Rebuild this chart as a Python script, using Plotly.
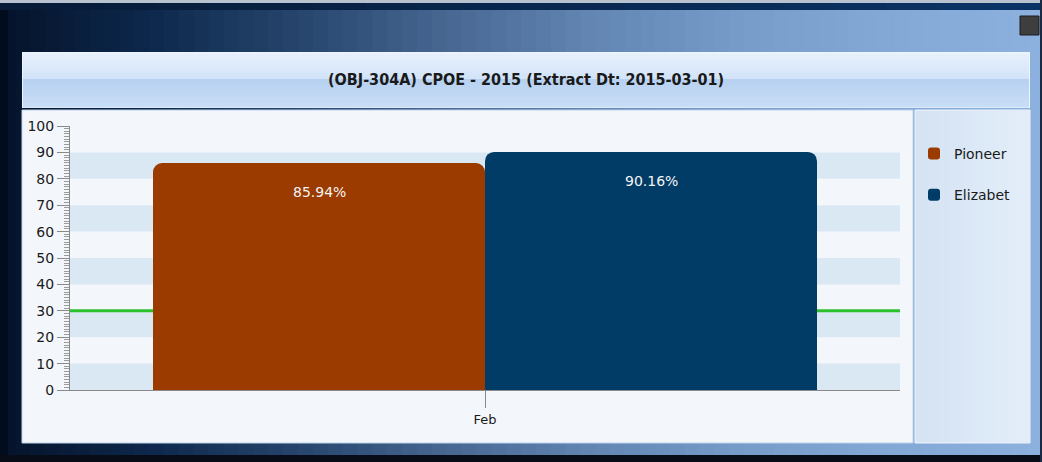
import plotly.graph_objects as go

# ---- data ----
categories = ["Feb"]
series_names = ["Pioneer", "Elizabet"]
pioneer_values = [85.94]
elizabet_values = [90.16]
target_value = 30
title_text = "(OBJ-304A) CPOE - 2015 (Extract Dt: 2015-03-01)"
y_ticks = [0, 10, 20, 30, 40, 50, 60, 70, 80, 90, 100]
series_colors = ["#9b3b00", "#003c66"]

W, H = 1042, 462
L, R, T, B = 70, 900, 126, 390  # plot area in pixels


def px(x):
    return (x - L) / (R - L)


def py(y):
    return (B - y) / (B - T)


def hexrgb(h):
    h = h.lstrip("#")
    return tuple(int(h[i:i + 2], 16) for i in (0, 2, 4))


def interp(stops, t):
    for (a, ca), (b, cb) in zip(stops, stops[1:]):
        if a <= t <= b:
            f = (t - a) / (b - a) if b > a else 0
            c1, c2 = hexrgb(ca), hexrgb(cb)
            return "rgb(%d,%d,%d)" % tuple(round(c1[i] + (c2[i] - c1[i]) * f) for i in range(3))
    return stops[-1][1]


shapes = []


def rect(x0, y0, x1, y1, fill, line=None, lw=0):
    shapes.append(dict(type="rect", xref="paper", yref="paper",
                       x0=px(x0), x1=px(x1), y0=py(y1), y1=py(y0),
                       fillcolor=fill, line=dict(color=line or fill, width=lw),
                       layer="below"))


# window horizontal gradient
win_stops = [(0, "#05132a"), (150, "#0d284c"), (300, "#27456d"), (450, "#486893"),
             (600, "#6487b4"), (750, "#789dca"), (900, "#84a9d7"), (1042, "#8db1de")]
n = 70
for i in range(n):
    x0 = W * i / n
    x1 = W * (i + 1) / n + 0.8
    rect(x0, 0, x1, H, interp(win_stops, (x0 + x1) / 2))

# top strip
rect(0, 0, W, 3, "#b9c3cf")
top_stops = [(0, "#071a36"), (1042, "#0a3466")]
for i in range(20):
    x0 = W * i / 20
    x1 = W * (i + 1) / 20 + 0.8
    rect(x0, 3, x1, 10, interp(top_stops, (x0 + x1) / 2))
# bottom edge
rect(0, 455, W, H, "#080c16")
rect(1040, 0, W, H, "#1a2a44")
rect(0, 10, 8, 455, "#030c1c")

# window button
rect(1020, 16, 1039, 35, "#3e3e3e", "#1c1c1c", 1)

# title panel (vertical gradient)
rect(22, 52, 1030, 108, "#eef5fe")
title_stops = [(0, "#e8f1fd"), (26, "#d2e3f8"), (27, "#b7d1f1"), (54, "#c8ddf6")]
for i in range(27):
    y0 = 53 + 54 * i / 27
    y1 = 53 + 54 * (i + 1) / 27 + 0.6
    rect(23, y0, 1029, y1, interp(title_stops, (y0 + y1) / 2 - 53))

# chart panel
rect(22, 110, 913, 443, "#f3f7fc", "#bdd2ea", 1)
# legend panel
leg_stops = [(915, "#d4e2f3"), (1030, "#e3eef9")]
rect(915, 110, 1030, 443, "#dbe7f5", "#eef4fb", 1)
for i in range(10):
    x0 = 916 + 113 * i / 10
    x1 = 916 + 113 * (i + 1) / 10 + 0.6
    rect(x0, 111, x1, 442, interp(leg_stops, (x0 + x1) / 2))

# alternating bands in the plot area (data-referenced in y)
for k in range(0, 100, 20):
    shapes.append(dict(type="rect", xref="paper", yref="y", x0=0, x1=1,
                       y0=k, y1=k + 10, fillcolor="#dae8f4", line=dict(width=0),
                       layer="below"))
# target line
shapes.append(dict(type="line", xref="paper", yref="y", x0=0, x1=1,
                   y0=target_value, y1=target_value,
                   line=dict(color="#2cc02c", width=3), layer="below"))

fig = go.Figure()
for name, vals, col in zip(series_names, [pioneer_values, elizabet_values], series_colors):
    fig.add_trace(go.Bar(name=name, x=categories, y=vals, marker=dict(color=col, line=dict(width=0),
                                                                         cornerradius=9),
                         legendgroup=name, hoverinfo="skip"))

annotations = []
bar_half = (R - L) * 0.8 / 4
for j, vals in enumerate([pioneer_values, elizabet_values]):
    for c, v in zip(categories, vals):
        annotations.append(dict(x=c, y=v, xref="x", yref="y", text="%.2f%%" % v,
                                showarrow=False, yanchor="top", yshift=-19,
                                xshift=(-1 if j == 0 else 1) * bar_half,
                                font=dict(family="DejaVu Sans", size=14, color="#f4f4f4")))
annotations.append(dict(x=px(526), y=py(80), xref="paper", yref="paper", text="<b>" + title_text + "</b>",
                        showarrow=False, xanchor="center", yanchor="middle",
                        font=dict(family="DejaVu Sans Condensed, Liberation Sans Narrow, DejaVu Sans",
                                  size=16, color="#1a1a1a")))

fig.update_layout(
    width=W, height=H,
    margin=dict(l=L, r=W - R, t=T, b=H - B, pad=0),
    paper_bgcolor="#0b1f3d", plot_bgcolor="rgba(0,0,0,0)",
    barmode="group", bargap=0.2, bargroupgap=0.0,
    shapes=shapes, annotations=annotations,
    showlegend=True,
    legend=dict(x=px(914), y=py(138), xanchor="left", yanchor="top",
                bgcolor="rgba(0,0,0,0)", traceorder="grouped", tracegroupgap=20,
                font=dict(family="DejaVu Sans", size=14, color="#1a1a1a"),
                itemclick=False, itemdoubleclick=False),
    xaxis=dict(type="category", showgrid=False, showline=True, linecolor="#8a8a8a", linewidth=1,
               ticks="outside", ticklen=17, tickcolor="#8a8a8a",
               tickfont=dict(family="DejaVu Sans", size=13, color="#1a1a1a"), fixedrange=True),
    yaxis=dict(range=[0, 100], tickvals=y_ticks, showgrid=False, zeroline=False,
               showline=True, linecolor="#8a8a8a", linewidth=1,
               ticks="outside", ticklen=12, tickcolor="#8a8a8a",
               minor=dict(dtick=1, ticks="outside", ticklen=5, tickcolor="#9a9a9a", showgrid=False),
               tickfont=dict(family="DejaVu Sans", size=14, color="#1a1a1a"), fixedrange=True),
)

fig.write_html("out.html", config=dict(displayModeBar=False),
               post_script="document.body.style.margin='0';document.body.style.overflow='hidden';")
